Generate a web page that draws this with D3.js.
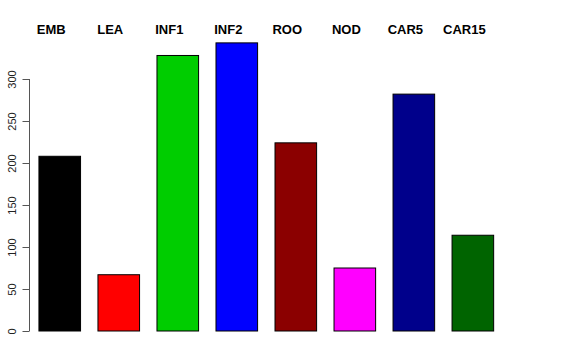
<!DOCTYPE html>
<html>
<head>
<meta charset="utf-8">
<script src="https://cdn.jsdelivr.net/npm/d3@7"></script>
<style>
  body { margin: 0; background: #fff; }
  svg { display: block; }
</style>
</head>
<body>
<script>
'use strict';

// data
var categories = ['EMB', 'LEA', 'INF1', 'INF2', 'ROO', 'NOD', 'CAR5', 'CAR15'],
  values = [208, 67, 328, 343, 224, 75, 282, 114],
  colors = ['#000000', '#ff0000', '#00cd00', '#0000ff', '#8b0000', '#ff00ff', '#00008b', '#006400'],
  yTicks = [0, 50, 100, 150, 200, 250, 300];

var width = 576, height = 360;

var svg = d3.select('body').append('svg')
  .attr('width', width)
  .attr('height', height);

// band scale: bars start ~38.5 with a step of ~59.2
var x = d3.scaleBand()
  .domain(categories)
  .range([29, 29 + 59.2 * 8])
  .paddingInner(0.295)
  .paddingOuter(0.16);

var y = d3.scaleLinear()
  .domain([0, 300])
  .range([331, 79]);

// bars
svg.selectAll('.bar')
  .data(categories)
  .enter().append('rect')
    .attr('class', 'bar')
    .attr('x', function(d) { return x(d) + 0.5; })
    .attr('y', function(d, i) { return y(values[i]); })
    .attr('width', x.bandwidth())
    .attr('height', function(d, i) { return y(0) - y(values[i]); })
    .attr('fill', function(d, i) { return colors[i]; })
    .attr('stroke', '#000')
    .attr('stroke-width', 1);

// y axis, R style
var axis = d3.axisLeft(y)
  .tickValues(yTicks)
  .tickSize(7)
  .tickPadding(12);

var gy = svg.append('g')
  .attr('transform', 'translate(29.5,0)')
  .call(axis);

gy.select('.domain').attr('stroke', '#555').attr('d', 'M0,' + y(0) + 'V' + y(300));
gy.selectAll('.tick line').attr('stroke', '#555');
gy.selectAll('.tick text')
  .attr('transform', 'rotate(-90)')
  .attr('x', 0)
  .attr('y', -17)
  .attr('dy', '0.35em')
  .attr('text-anchor', 'middle')
  .style('font-family', 'Liberation Sans, Arial, sans-serif')
  .style('font-size', '11px')
  .attr('fill', '#222');

// category labels over the plot
svg.selectAll('.label')
  .data(categories)
  .enter().append('text')
    .attr('class', 'label')
    .attr('x', function(d) { return x(d) + x.bandwidth() / 2 - 8; })
    .attr('y', 34)
    .attr('text-anchor', 'middle')
    .style('font-family', 'Liberation Sans, Arial, sans-serif')
    .style('font-weight', 'bold')
    .style('font-size', '13px')
    .text(function(d) { return d; });
</script>
</body>
</html>
